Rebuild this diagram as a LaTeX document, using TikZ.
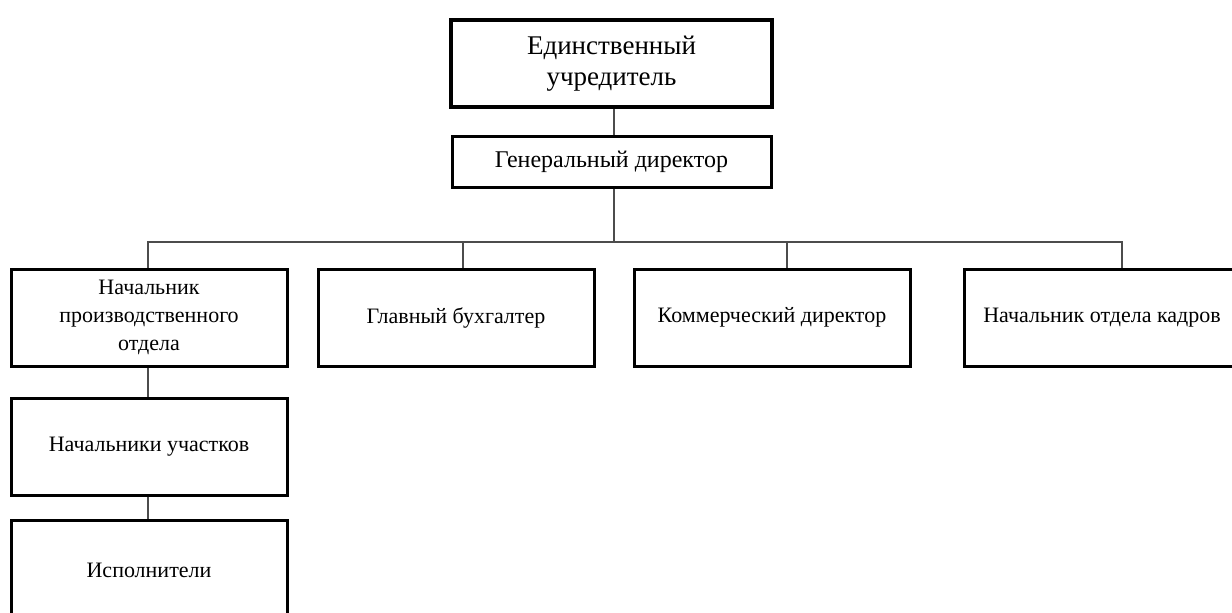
\documentclass[tikz,border=0pt]{standalone}
\usepackage{fontspec}
\setmainfont{Liberation Serif}
\begin{document}
\begin{tikzpicture}[x=1pt,y=-1pt,
  unit/.style={draw=black, line width=3pt, fill=white, align=center,
    inner sep=2pt, font=\fontsize{22}{28}\selectfont},
  link/.style={draw=black!70, line width=1.6pt}]
\useasboundingbox (0,0) rectangle (1232,613);
\clip (0,0) rectangle (1232,613);
% founder and general director
\node[unit, line width=4.5pt, minimum width=321pt, minimum height=87pt,
  font=\fontsize{27}{31}\selectfont] (top) at (611.5,63.5) {Единственный\\учредитель};
\node[unit, minimum width=319pt, minimum height=51pt,
  font=\fontsize{24}{27}\selectfont] (gd) at (611.5,161.5) {Генеральный директор};
% second level
\node[unit, minimum width=276pt, minimum height=97pt] (b1) at (149,317.5) {Начальник\\производственного\\отдела};
\node[unit, minimum width=276pt, minimum height=97pt] (b2) at (456,317.5) {Главный бухгалтер};
\node[unit, minimum width=276pt, minimum height=97pt] (b3) at (772,317.5) {Коммерческий директор};
\node[unit, minimum width=276pt, minimum height=97pt] (b4) at (1102,317.5) {Начальник отдела кадров};
% production branch
\node[unit, minimum width=276pt, minimum height=97pt] (b5) at (149,446.5) {Начальники участков};
\node[unit, minimum width=276pt, minimum height=120pt] (b6) at (149,580) {};
\node[font=\fontsize{22}{28}\selectfont] (b6t) at (149,570) {Исполнители};
% connectors
\coordinate (bus) at (614,242);
\draw[link] ([xshift=2.5pt]top.south) -- ([xshift=2.5pt]gd.north);
\draw[link] ([xshift=2.5pt]gd.south) -- (bus);
\draw[link] (bus) -| ([xshift=-1pt]b1.north);
\draw[link] (bus) -| ([xshift=7pt]b2.north);
\draw[link] (bus) -| ([xshift=15pt]b3.north);
\draw[link] (bus) -| ([xshift=20pt]b4.north);
\draw[link] ([xshift=-1pt]b1.south) -- ([xshift=-1pt]b5.north);
\draw[link] ([xshift=-1pt]b5.south) -- ([xshift=-1pt]b6.north);
\end{tikzpicture}
\end{document}
